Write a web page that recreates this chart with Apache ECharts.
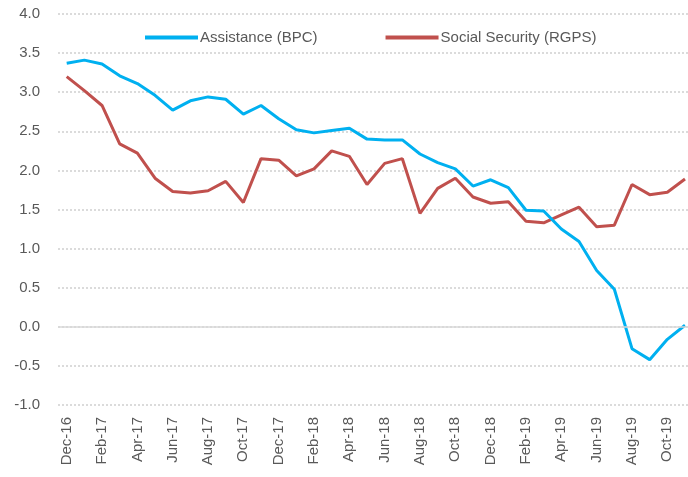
<!DOCTYPE html>
<html>
<head>
<meta charset="utf-8">
<script src="https://cdn.jsdelivr.net/npm/echarts@6/dist/echarts.min.js"></script>
<style>html,body{margin:0;padding:0;background:#fff}#c{width:688px;height:477px}</style>
</head>
<body>
<div id="c"></div>
<script>
const months = ["Dec-16","Jan-17","Feb-17","Mar-17","Apr-17","May-17","Jun-17","Jul-17","Aug-17","Sep-17","Oct-17","Nov-17",
"Dec-17","Jan-18","Feb-18","Mar-18","Apr-18","May-18","Jun-18","Jul-18","Aug-18","Sep-18","Oct-18","Nov-18",
"Dec-18","Jan-19","Feb-19","Mar-19","Apr-19","May-19","Jun-19","Jul-19","Aug-19","Sep-19","Oct-19","Nov-19"];
const assistance = [3.37,3.41,3.36,3.21,3.11,2.96,2.77,2.89,2.94,2.91,2.72,2.83,
2.66,2.52,2.48,2.51,2.54,2.40,2.39,2.39,2.21,2.10,2.02,1.80,
1.88,1.78,1.49,1.48,1.25,1.09,0.72,0.48,-0.28,-0.42,-0.16,0.02];
const socialSecurity = [3.20,3.02,2.83,2.34,2.22,1.90,1.73,1.71,1.74,1.86,1.59,2.15,
2.13,1.93,2.02,2.25,2.18,1.82,2.09,2.15,1.45,1.77,1.90,1.66,
1.58,1.60,1.35,1.33,1.43,1.53,1.28,1.30,1.82,1.69,1.72,1.89];
const yMin = -1, yMax = 4, yStep = 0.5;

const chart = echarts.init(document.getElementById('c'));
const font = 'Liberation Sans';
chart.setOption({
  animation: false,
  backgroundColor: '#fff',
  textStyle: {fontFamily: font},
  legend: {
    left: 140, top: 25,
    icon: 'rect', itemWidth: 53, itemHeight: 4, itemGap: 68,
    textStyle: {fontFamily: font, fontSize: 15, color: '#595959', padding: [0,0,0,-3]},
    data: ['Assistance (BPC)', 'Social Security (RGPS)']
  },
  grid: [
    {left: 58, top: 14, right: 0, bottom: 72},
    {left: 66.7, top: 14, right: 3, bottom: 72}
  ],
  xAxis: [
    {gridIndex: 0, type: 'category', data: months, show: false},
    {
      gridIndex: 1, type: 'category', data: months, boundaryGap: false,
      axisLine: {show: false}, axisTick: {show: false}, splitLine: {show: false},
      axisLabel: {interval: 1, rotate: 90, margin: 12, fontSize: 15, color: '#595959', fontFamily: font}
    }
  ],
  yAxis: [
    {
      gridIndex: 0, type: 'value', min: yMin, max: yMax, interval: yStep,
      axisLine: {show: false}, axisTick: {show: false},
      axisLabel: {formatter: v => v.toFixed(1), fontSize: 15, color: '#595959', margin: 18, fontFamily: font},
      splitLine: {lineStyle: {color: '#d0d0d0', type: [2, 2], width: 1.5}}
    },
    {
      gridIndex: 1, type: 'value', min: yMin, max: yMax, interval: yStep,
      axisLine: {show: false}, axisTick: {show: false}, axisLabel: {show: false}, splitLine: {show: false}
    }
  ],
  series: [
    {
      type: 'line', xAxisIndex: 0, yAxisIndex: 0, data: [], silent: true,
      markLine: {silent: true, symbol: 'none', label: {show: false},
        lineStyle: {color: '#d9d9d9', type: 'solid', width: 1.5}, data: [{yAxis: 0}]}
    },
    {
      name: 'Assistance (BPC)', type: 'line', xAxisIndex: 1, yAxisIndex: 1, data: assistance, symbol: 'none',
      lineStyle: {color: '#00b0f0', width: 3}, itemStyle: {color: '#00b0f0'}, z: 3
    },
    {
      name: 'Social Security (RGPS)', type: 'line', xAxisIndex: 1, yAxisIndex: 1, data: socialSecurity, symbol: 'none',
      lineStyle: {color: '#c0504d', width: 3}, itemStyle: {color: '#c0504d'}, z: 2
    }
  ]
});
</script>
</body>
</html>
